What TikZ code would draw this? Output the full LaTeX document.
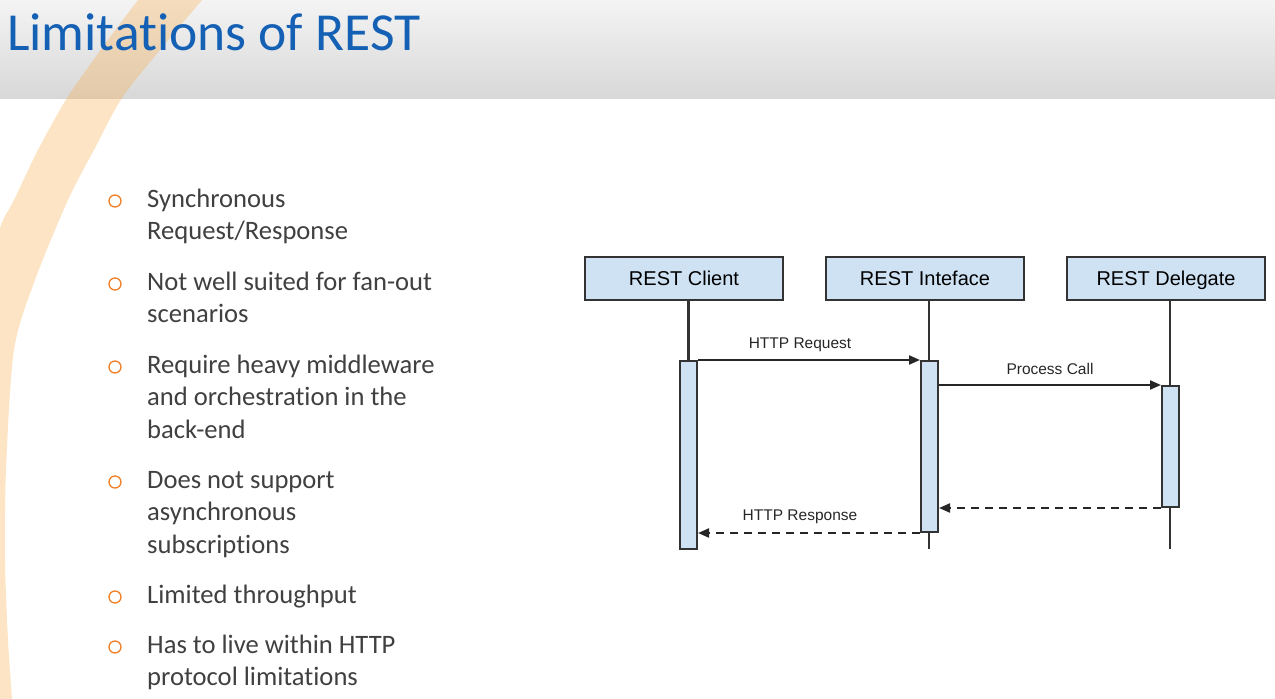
\documentclass[tikz,border=0pt]{standalone}
\usepackage{fontspec}
\setmainfont{Carlito}[Ligatures=NoCommon]
\newfontfamily\arialfont{Liberation Sans}
\usetikzlibrary{arrows.meta}
\definecolor{titleblue}{RGB}{20,96,180}
\definecolor{bodygray}{RGB}{64,64,64}
\definecolor{bulletorange}{RGB}{240,128,40}
\definecolor{bandorange}{RGB}{248,172,72}
\definecolor{boxfill}{RGB}{207,226,243}
\definecolor{boxline}{RGB}{51,51,51}
\definecolor{headtop}{RGB}{244,244,244}
\definecolor{headbot}{RGB}{216,216,216}
\begin{document}
\begin{tikzpicture}[x=1pt,y=-1pt,
  lifebox/.style={draw=boxline, line width=2pt, fill=boxfill, minimum width=198pt,
    minimum height=43pt, inner sep=0pt, text height=14pt, text depth=0pt,
    font=\arialfont\fontsize{20}{22}\selectfont},
  actbox/.style={draw=boxline, line width=2pt, fill=boxfill, minimum width=17pt, inner sep=0pt},
  lifeline/.style={draw=boxline, line width=2.1pt},
  msg/.style={draw=black!85, line width=2.1pt, -{Triangle[length=11pt,width=9pt]}},
  ret/.style={msg, dash pattern=on 8pt off 6pt},
  msglabel/.style={anchor=base, inner sep=0pt, font=\arialfont\fontsize{15.5}{18}\selectfont, text=black!85},
  bodyline/.style={anchor=base west, inner sep=0pt, text=bodygray, font=\fontsize{26.6}{30}\selectfont},
  bulletring/.style={draw=bulletorange, line width=1.3pt},
]
\useasboundingbox (0,0) rectangle (1275,699);
% header band
\shade[top color=headtop, bottom color=headbot] (0,0) rectangle (1275,98);
% orange arc band
\begin{scope}
\clip (0,0) rectangle (1275,699);
\fill[bandorange, opacity=0.32] plot[smooth] coordinates {(150,-15) (138,0) (102,48) (67,98) (38,150) (14,200) (0,228) (-20,300) (-40,450) (-40,600) (-30,712)}
  -- plot[smooth] coordinates {(13,712) (12,699) (8,640) (5,560) (6,470) (14,350) (35,280) (68,200) (95,148) (122,98) (160,50) (202,0) (214,-15)} -- cycle;
\end{scope}
% title
\node[anchor=base west, inner sep=0pt, text=titleblue, font=\fontsize{53.5}{60}\selectfont] (title) at (7,50) {Limitations of REST};
% bullets
\draw[bulletring] (115,201) circle (6pt);
\draw[bulletring] (115,284) circle (6pt);
\draw[bulletring] (115,367) circle (6pt);
\draw[bulletring] (115,482) circle (6pt);
\draw[bulletring] (115,597) circle (6pt);
\draw[bulletring] (115,647) circle (6pt);
\node[bodyline] (t1a) at (147,207) {Synchronous};
\node[bodyline] (t1b) at (147,239.5) {Request/Response};
\node[bodyline] (t2a) at (147,290) {Not well suited for fan-out};
\node[bodyline] (t2b) at (147,322.5) {scenarios};
\node[bodyline] (t3a) at (147,373) {Require heavy middleware};
\node[bodyline] (t3b) at (147,405.5) {and orchestration in the};
\node[bodyline] (t3c) at (147,438) {back-end};
\node[bodyline] (t4a) at (147,488) {Does not support};
\node[bodyline] (t4b) at (147,520.5) {asynchronous};
\node[bodyline] (t4c) at (147,553) {subscriptions};
\node[bodyline] (t5a) at (147,603) {Limited throughput};
\node[bodyline] (t6a) at (147,653) {Has to live within HTTP};
\node[bodyline] (t6b) at (147,685.5) {protocol limitations};
% sequence diagram
\node[lifebox] (client) at (684,278.5) {REST Client};
\node[lifebox] (iface) at (925,278.5) {REST Inteface};
\node[lifebox] (deleg) at (1166,278.5) {REST Delegate};
\coordinate (iend) at (929,549);
\coordinate (dend) at (1170,549);
\draw[lifeline] (iend |- iface.south) -- (iend);
\draw[lifeline] (dend |- deleg.south) -- (dend);
\node[actbox, minimum height=188pt] (cact) at (688.5,455) {};
\node[actbox, minimum height=171pt] (iact) at (929.5,446.5) {};
\node[actbox, minimum height=121pt] (dact) at (1170.5,446.5) {};
\draw[lifeline] (cact.north |- client.south) -- (cact.north);
\draw[msg] (cact.north east) -- (iact.north west);
\draw[msg] (iact.east |- dact.north) -- (dact.north west);
\draw[ret] (dact.south west) -- (iact.east |- dact.south);
\draw[ret] (iact.south west) -- (cact.east |- iact.south);
\node[msglabel] (lreq) at (800,348.5) {HTTP Request};
\node[msglabel] (lproc) at (1050,374) {Process Call};
\node[msglabel] (lresp) at (800,520.5) {HTTP Response};
\end{tikzpicture}
\end{document}
